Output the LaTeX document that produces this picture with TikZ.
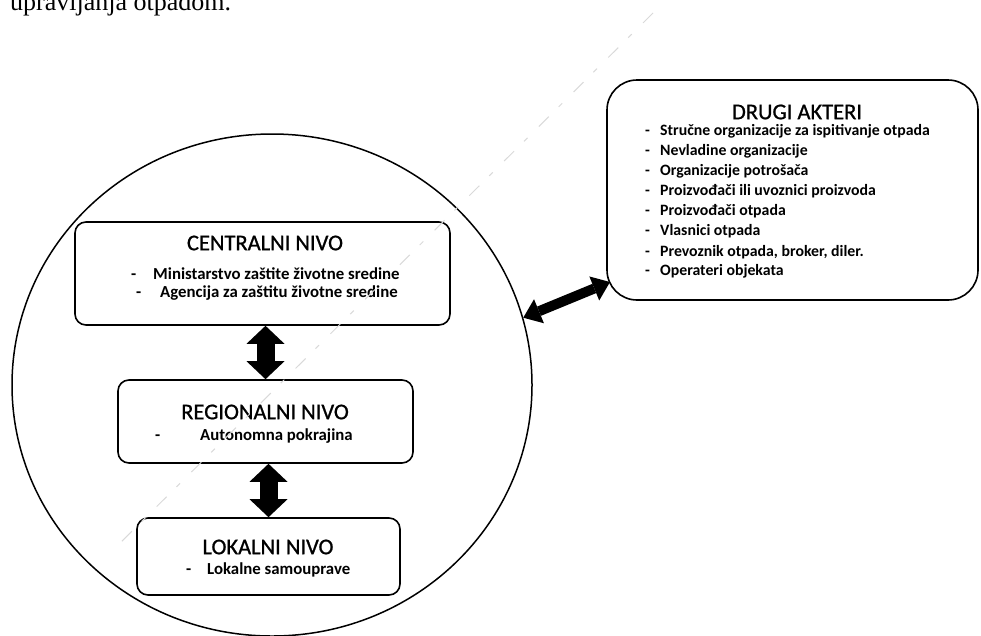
\documentclass[tikz,border=0pt]{standalone}
\usepackage{fontspec}
\setmainfont{Carlito}
\newfontfamily\titlefont[FakeBold=0.9]{Carlito}
\newfontfamily\pagefont{Liberation Serif}
\usetikzlibrary{shapes.geometric,arrows.meta,calc}
\begin{document}
\begin{tikzpicture}[x=1pt,y=-1pt,
  box/.style={draw, line width=1.6pt, rounded corners=11pt, inner sep=0pt},
  ttl/.style={font=\titlefont\fontsize{22.5}{26}\selectfont, anchor=center, inner sep=0pt},
  itm/.style={font=\bfseries\fontsize{16.8}{19}\selectfont, anchor=mid west, inner sep=0pt},
  ditm/.style={font=\bfseries\fontsize{15.8}{18}\selectfont, anchor=mid west, inner sep=0pt},
  vbig/.style={line width=18pt, {Triangle[width=38pt,length=18pt,line width=0pt]}-{Triangle[width=38pt,length=18pt,line width=0pt]}},
  dbig/.style={line width=10pt, {Triangle[width=26pt,length=17pt,line width=0pt]}-{Triangle[width=26pt,length=17pt,line width=0pt]}},
  scanline/.style={gray!30, line width=1pt, dash pattern=on 14pt off 16pt on 5pt off 14pt}]
\useasboundingbox (0,0) rectangle (981,635);
\clip (0,0) rectangle (981,635);

% page text fragment at top
\node[anchor=base west, inner sep=0pt, font=\pagefont\fontsize{26}{28}\selectfont] (pagetxt) at (10,10) {upravljanja otpadom.};

% big circle
\node[draw, ellipse, line width=1.5pt, minimum width=520pt, minimum height=502pt, inner sep=0pt] (circ) at (272,385) {};

% boxes
\node[box, minimum width=375pt, minimum height=103pt] (central) at (262.5,273.5) {};
\node[box, minimum width=295pt, minimum height=83pt] (regional) at (265.5,421.5) {};
\node[box, minimum width=263pt, minimum height=77pt] (lokal) at (268.5,556.5) {};
\node[box, rounded corners=30pt, minimum width=371pt, minimum height=220pt] (drugi) at (792.5,190) {};

% central texts
\node[ttl] (ct) at (265,243) {CENTRALNI NIVO};
\node[itm] (c1) at (131,277) {\makebox[22pt][l]{-}Ministarstvo zaštite životne sredine};
\node[itm] (c2) at (136,295) {\makebox[24pt][l]{-}Agencija za zaštitu životne sredine};

% regional texts
\node[ttl] (rt) at (265,412) {REGIONALNI NIVO};
\node[itm] (r1) at (155,438) {\makebox[45pt][l]{-}Autonomna pokrajina};

% local texts
\node[ttl] (lt) at (268,547) {LOKALNI NIVO};
\node[itm] (l1) at (186,572) {\makebox[21pt][l]{-}Lokalne samouprave};

% drugi akteri texts
\node[ttl] (dt) at (797,112) {DRUGI AKTERI};
\foreach \i/\yy/\txt in {1/133/Stručne organizacije za ispitivanje otpada,
  2/153/Nevladine organizacije,
  3/173/Organizacije potrošača,
  4/193/Proizvođači ili uvoznici proizvoda,
  5/213/Proizvođači otpada,
  6/233/Vlasnici otpada,
  7/254/{Prevoznik otpada, broker, diler.},
  8/273/Operateri objekata}{
  \node[ditm] (d\i) at (645,\yy) {\makebox[15pt][l]{-}\txt};
}

% connectors
\draw[vbig] (regional.north |- central.south) -- (regional.north);
\draw[vbig] (lokal.north |- regional.south) -- (lokal.north);
\coordinate (dtip) at (610,282);
\draw[dbig] (circ.15) -- (dtip);

% faint scan line
\draw[scanline] (653,13) -- (113,550);
\end{tikzpicture}
\end{document}
